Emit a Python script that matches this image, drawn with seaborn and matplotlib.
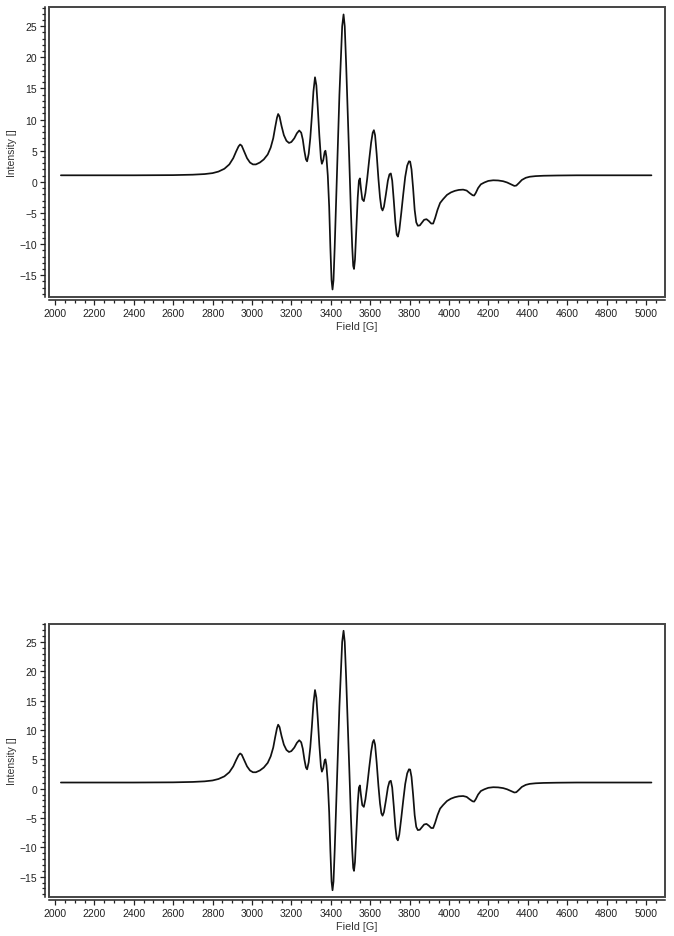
import numpy as np
import pandas as pd
import matplotlib
matplotlib.use("Agg")
import matplotlib.pyplot as plt
import seaborn as sns
from matplotlib.patches import Rectangle
from matplotlib.ticker import MultipleLocator

# EPR spectrum (field in G, intensity)
field = [2030, 2400, 2600, 2700, 2760, 2800, 2830, 2860, 2885, 2905, 2920, 2932,
         2940, 2948, 2960, 2975, 2990, 3005, 3020, 3040, 3060, 3080, 3095, 3108,
         3118, 3127, 3133, 3140, 3150, 3162, 3175, 3188, 3200, 3215, 3228, 3240,
         3250, 3258, 3266, 3274, 3280, 3288, 3296, 3304, 3312, 3320, 3327, 3334,
         3342, 3350, 3355, 3362, 3369, 3373, 3378, 3385, 3392, 3398, 3404, 3409,
         3414, 3420, 3428, 3436, 3444, 3452, 3458, 3465, 3471, 3478, 3486, 3494,
         3502, 3509, 3514, 3518, 3523, 3530, 3537, 3543, 3548, 3553, 3560, 3568,
         3576, 3585, 3595, 3605, 3613, 3619, 3625, 3633, 3642, 3650, 3657, 3663,
         3670, 3680, 3690, 3698, 3705, 3712, 3720, 3728, 3735, 3741, 3748, 3758,
         3768, 3778, 3788, 3797, 3803, 3810, 3818, 3826, 3834, 3842, 3852, 3862,
         3874, 3886, 3898, 3910, 3920, 3930, 3942, 3955, 3970, 3990, 4010, 4030,
         4050, 4072, 4090, 4105, 4120, 4128, 4136, 4148, 4162, 4180, 4200, 4225,
         4250, 4275, 4295, 4315, 4332, 4342, 4355, 4370, 4390, 4410, 4440, 4480,
         4550, 4650, 4800, 5028]
intensity = [1.05, 1.05, 1.08, 1.15, 1.25, 1.4, 1.65, 2.1, 2.8, 3.8, 4.9, 5.7,
             6.0, 5.8, 4.9, 3.8, 3.1, 2.8, 2.8, 3.1, 3.6, 4.4, 5.5, 7.0,
             8.8, 10.3, 10.9, 10.5, 9.0, 7.5, 6.6, 6.25, 6.4, 7.0, 7.8, 8.25,
             7.9, 6.8, 5.0, 3.6, 3.3, 4.5, 7.0, 10.5, 14.5, 16.8, 15.5, 12.0,
             7.5, 3.8, 2.9, 3.5, 4.8, 5.0, 4.0, 1.0, -4.0, -10.5, -15.8, -17.3,
             -15.8, -10.5, -2.5, 6.0, 14.0, 20.5, 25.0, 26.9, 25.0, 19.0, 11.5, 3.5,
             -4.5, -10.5, -13.5, -14.0, -12.5, -7.5, -2.5, 0.2, 0.55, -1.0, -2.8, -3.1,
             -1.8, 0.5, 3.5, 6.3, 7.9, 8.3, 7.5, 4.5, 0.5, -2.5, -4.2, -4.6,
             -4.0, -2.0, 0.2, 1.2, 1.35, 0.2, -3.0, -6.5, -8.5, -8.8, -7.8, -5.0,
             -2.0, 0.8, 2.6, 3.3, 3.25, 2.0, -1.0, -4.5, -6.5, -7.05, -7.0, -6.6,
             -6.1, -6.0, -6.3, -6.7, -6.7, -5.8, -4.5, -3.4, -2.8, -2.1, -1.7, -1.45,
             -1.3, -1.25, -1.4, -1.8, -2.15, -2.2, -1.8, -1.0, -0.4, -0.1, 0.15, 0.25,
             0.22, 0.1, -0.1, -0.4, -0.65, -0.6, -0.2, 0.3, 0.65, 0.82, 0.92, 0.98,
             1.02, 1.05, 1.05, 1.05]

x_label = "Field [G]"
y_label = "Intensity []"

df = pd.DataFrame({"field": field, "intensity": intensity})

sns.set_style("ticks")
plt.rcParams["font.family"] = ["Liberation Sans", "DejaVu Sans"]

fig = plt.figure(figsize=(6.74, 9.37), dpi=100)

# two identical panels, the lower one slightly shorter
panels = [[0.0731, 0.682, 0.913, 0.3095], [0.0731, 0.0413, 0.913, 0.292]]

for pos in panels:
    ax = fig.add_axes(pos)
    sns.lineplot(data=df, x="field", y="intensity", ax=ax, color="#111111",
                 lw=1.25, estimator=None, sort=False)
    ax.set_xlim(1971, 5095)
    ax.set_ylim(-18.5, 28.1)

    ax.xaxis.set_major_locator(MultipleLocator(200))
    ax.xaxis.set_minor_locator(MultipleLocator(50))
    ax.yaxis.set_major_locator(MultipleLocator(5))
    ax.yaxis.set_minor_locator(MultipleLocator(1))

    ax.spines["top"].set_visible(False)
    ax.spines["right"].set_visible(False)
    ax.spines["left"].set_position(("outward", 2.9))
    ax.spines["bottom"].set_position(("outward", 2.0))
    for s in ["left", "bottom"]:
        ax.spines[s].set_linewidth(1.1)
        ax.spines[s].set_color("#222222")

    ax.tick_params(which="major", direction="out", length=3.6, width=0.9,
                   color="#222222", labelsize=7.5, labelcolor="#222222", pad=2.2)
    ax.tick_params(which="minor", direction="out", length=2.2, width=0.9,
                   color="#222222")

    # frame around the plotting area
    ax.add_patch(Rectangle((0, 0), 1, 1, transform=ax.transAxes, fill=False,
                           lw=1.4, edgecolor="#444444", clip_on=False, zorder=5))

    ax.set_xlabel(x_label, fontsize=7.8, color="#333333")
    ax.set_ylabel(y_label, fontsize=7.5, color="#333333")
    ax.yaxis.set_label_coords(-0.0525, 0.5)
    h = pos[3] * 937
    ax.xaxis.set_label_coords(0.5, -24 / h)

fig.savefig("out.png", dpi=100)
